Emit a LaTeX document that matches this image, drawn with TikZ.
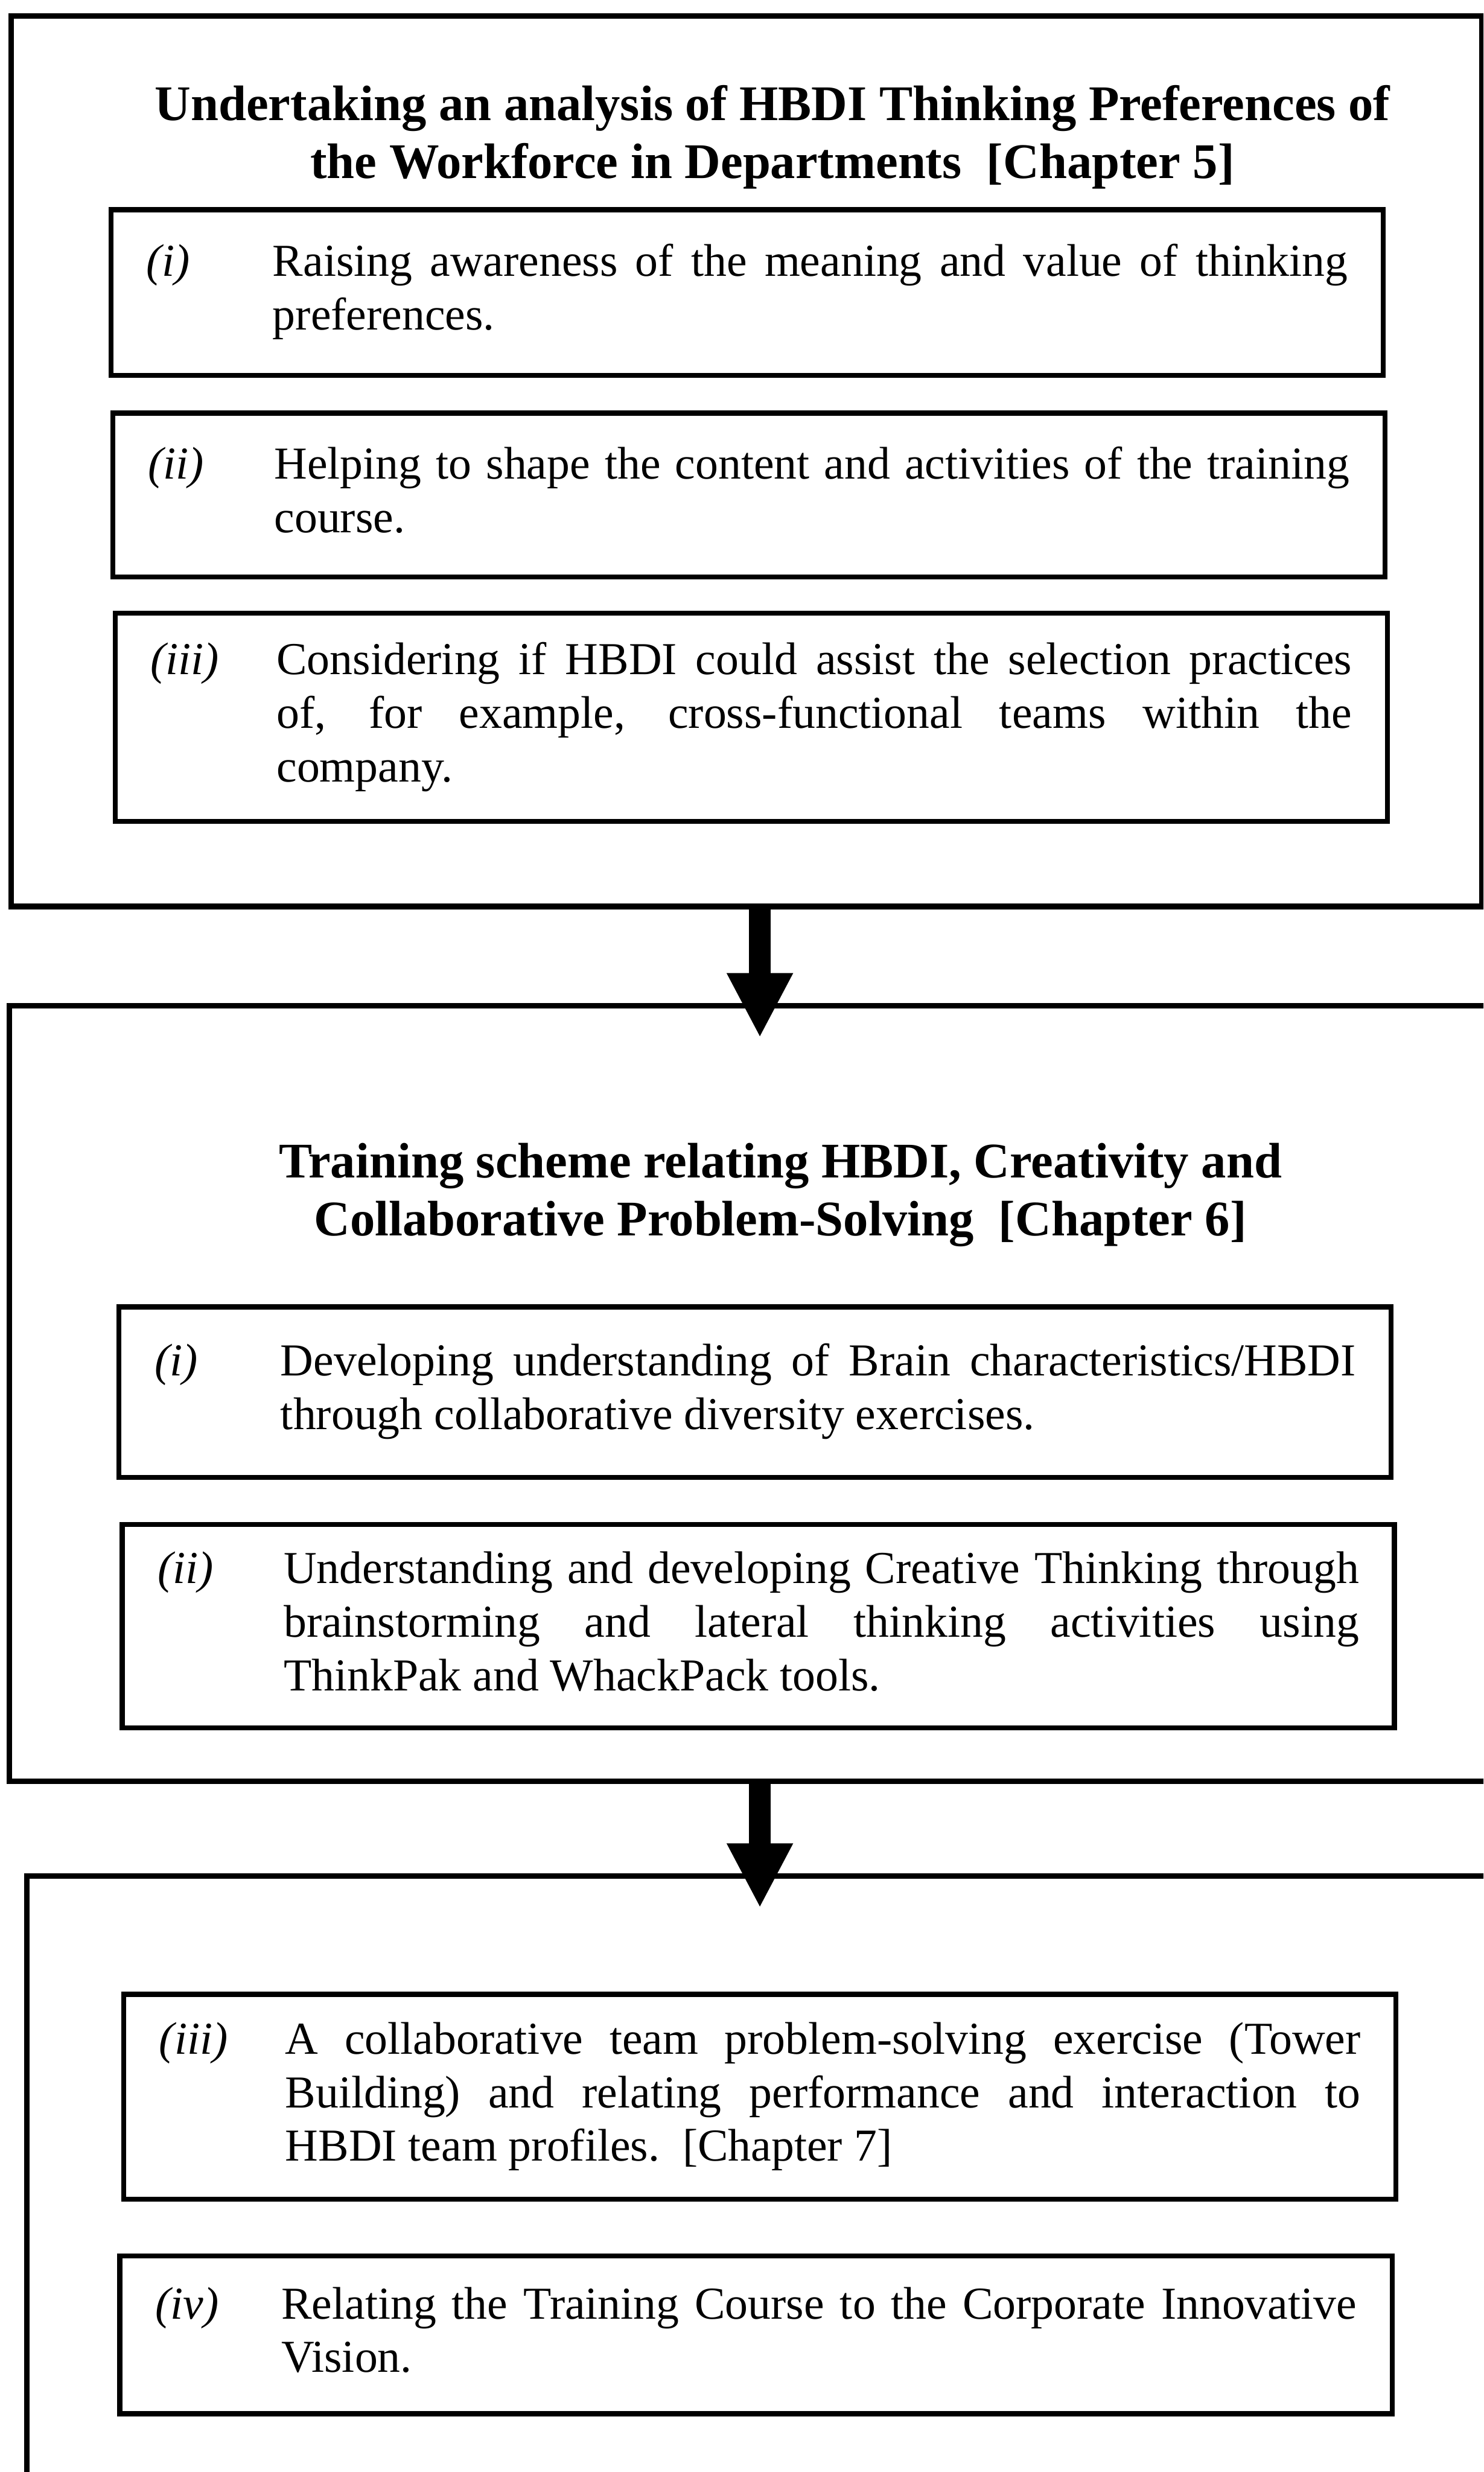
\documentclass[tikz,border=0pt]{standalone}
\usepackage{fontspec}
\setmainfont{Liberation Serif}
\usetikzlibrary{arrows.meta}
\newcommand{\stage}[2]{\begin{tabular}{@{}p{1.6cm}@{}p{13.64cm}@{}}\textit{#1}&#2\end{tabular}}
\tikzset{stagebox/.style={draw, line width=2pt, rectangle},
         itembox/.style={draw, line width=1.8pt, rectangle, inner xsep=0.45cm, inner ysep=0pt, font=\fontsize{16.5}{19.35}\selectfont},
         heading/.style={align=center, font=\fontsize{18}{20.8}\selectfont\bfseries},
         flow/.style={-{Triangle[width=0.78cm,length=0.82cm]}, line width=0.28cm}}

\begin{document}
\begin{tikzpicture}
    \useasboundingbox (0,0) rectangle (18.82,-31.36);
    \clip (0,0) rectangle (18.82,-31.36);
    % Chapter 5
    \node[stagebox, minimum width=18.66cm, minimum height=11.3cm](s1)at(9.47,-5.85){};
    \node[heading](h1)at(9.8,-1.74){Undertaking an analysis of HBDI Thinking Preferences of\\the Workforce in Departments~~[Chapter 5]};
    \node[itembox, minimum height=2.1cm](a1)at(9.48,-3.71){\stage{(i)}{Raising awareness of the meaning and value of thinking\linebreak preferences.}};
    \node[itembox, minimum height=2.08cm](a2)at(9.5,-6.28){\stage{(ii)}{Helping to shape the content and activities of the training\linebreak course.}};
    \node[itembox, minimum height=2.64cm](a3)at(9.53,-9.1){\stage{(iii)}{Considering if HBDI could assist the selection practices\linebreak of, for example, cross-functional teams within the\linebreak company.}};
    % Chapter 6
    \node[stagebox, minimum width=19.04cm, minimum height=9.84cm](s2)at(9.64,-17.68){};
    \node[heading](h2)at(9.9,-15.16){Training scheme relating HBDI, Creativity and\\Collaborative Problem-Solving~~[Chapter 6]};
    \node[itembox, minimum height=2.16cm](b1)at(9.58,-17.66){\stage{(i)}{Developing understanding of Brain characteristics/HBDI\linebreak through collaborative diversity exercises.}};
    \node[itembox, minimum height=2.58cm](b2)at(9.62,-20.63){\stage{(ii)}{Understanding and developing Creative Thinking through\linebreak brainstorming and lateral thinking activities using\linebreak ThinkPak and WhackPack tools.}};
    % Chapter 7
    \node[stagebox, minimum width=18.6cm, minimum height=8.6cm](s3)at(9.64,-28.1){};
    \node[itembox, minimum height=2.6cm](c1)at(9.64,-26.6){\stage{(iii)}{A collaborative team problem-solving exercise (Tower\linebreak Building) and relating performance and interaction to\linebreak HBDI team profiles.~~[Chapter 7]}};
    \node[itembox, minimum height=2cm](c2)at(9.59,-29.62){\stage{(iv)}{Relating the Training Course to the Corporate Innovative\linebreak Vision.}};
    \draw[flow](s1.south -| s2.north)--([yshift=-0.44cm]s2.north);
    \draw[flow](s2.south)--([yshift=-0.44cm]s3.north);
\end{tikzpicture}
\end{document}
